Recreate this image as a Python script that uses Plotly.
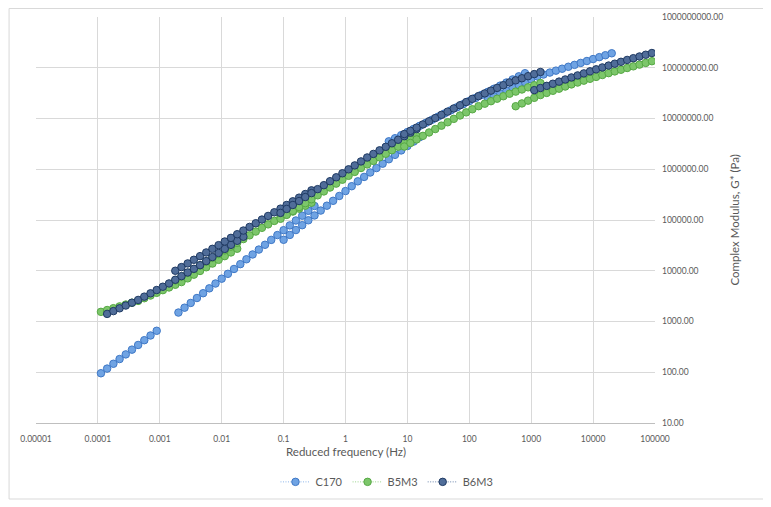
import plotly.graph_objects as go

# ---------------- data (reduced frequency in Hz, |G*| in Pa) ----------------
# Each series is a master curve built from several overlapping frequency sweeps.
C170_FREQ = [
    [1.12e-4, 1.41e-4, 1.78e-4, 2.24e-4, 2.82e-4, 3.55e-4, 4.47e-4, 5.62e-4, 7.08e-4, 8.91e-4],
    [2.00e-3, 2.51e-3, 3.16e-3, 3.98e-3, 5.01e-3, 6.31e-3, 7.94e-3, 1.00e-2, 1.26e-2, 1.58e-2, 2.00e-2, 2.51e-2,
     3.16e-2, 3.98e-2, 5.01e-2, 6.31e-2, 7.94e-2, 0.100, 0.126, 0.158, 0.200, 0.251, 0.316],
    [0.100, 0.126, 0.158, 0.200, 0.251, 0.316, 0.398, 0.501, 0.631, 0.794, 1.00, 1.26, 1.58, 2.00, 2.51, 3.16,
     3.98, 5.01, 6.31, 7.94, 10.0, 12.6, 15.8],
    [5.01, 6.31, 7.94, 10.0, 12.6, 15.8, 20.0, 25.1, 31.6, 39.8, 50.1, 63.1, 79.4, 100, 126, 158, 200, 251, 316,
     398, 501, 631, 794],
    [200, 251, 316, 398, 501, 631, 794, 1000, 1260, 1580, 2000, 2510, 3160, 3980, 5010, 6310, 7940, 10000, 12600,
     15800, 20000],
]
C170_GSTAR = [
    [95.5, 118, 147, 182, 225, 279, 345, 428, 530, 656],
    [1500, 1870, 2320, 2900, 3610, 4500, 5600, 6980, 8690, 10840, 13490, 16830, 20940, 26120, 32510, 40550,
     50470, 62950, 78340, 97720, 121600, 151700, 188800],
    [40740, 50820, 63390, 79070, 98630, 123000, 153500, 191400, 238800, 297800, 371500, 463400, 578100, 706300,
     863000, 1.054e6, 1.288e6, 1.574e6, 1.923e6, 2.350e6, 2.871e6, 3.508e6, 4.285e6],
    [3.548e6, 4.083e6, 4.699e6, 5.408e6, 6.223e6, 7.161e6, 8.241e6, 9.484e6, 1.091e7, 1.256e7, 1.445e7, 1.663e7,
     1.914e7, 2.203e7, 2.535e7, 2.917e7, 3.357e7, 3.864e7, 4.446e7, 5.117e7, 5.888e7, 6.776e7, 7.798e7],
    [2.404e7, 2.735e7, 3.112e7, 3.540e7, 4.027e7, 4.581e7, 5.212e7, 5.929e7, 6.745e7, 7.362e7, 8.035e7, 8.770e7,
     9.572e7, 1.045e8, 1.140e8, 1.245e8, 1.358e8, 1.483e8, 1.618e8, 1.766e8, 1.928e8],
]

B5M3_FREQ = [
    [1.12e-4, 1.41e-4, 1.78e-4, 2.24e-4, 2.82e-4, 3.55e-4, 4.47e-4, 5.62e-4, 7.08e-4, 8.91e-4, 1.12e-3, 1.41e-3,
     1.78e-3, 2.24e-3, 2.82e-3, 3.55e-3, 4.47e-3, 5.62e-3, 7.08e-3, 8.91e-3, 1.12e-2, 1.41e-2, 1.78e-2],
    [1.78e-3, 2.24e-3, 2.82e-3, 3.55e-3, 4.47e-3, 5.62e-3, 7.08e-3, 8.91e-3, 1.12e-2, 1.41e-2, 1.78e-2, 2.24e-2,
     2.82e-2, 3.55e-2, 4.47e-2, 5.62e-2, 7.08e-2, 8.91e-2, 0.112, 0.141, 0.178, 0.224, 0.282],
    [8.91e-2, 0.112, 0.141, 0.178, 0.224, 0.282, 0.355, 0.447, 0.562, 0.708, 0.891, 1.12, 1.41, 1.78, 2.24, 2.82,
     3.55, 4.47, 5.62, 7.08, 8.91, 11.2, 14.1],
    [8.91, 11.2, 14.1, 17.8, 22.4, 28.2, 35.5, 44.7, 56.2, 70.8, 89.1, 112, 141, 178, 224, 282, 355, 447, 562,
     708, 891, 1120, 1410],
    [562, 708, 891, 1120, 1410, 1780, 2240, 2820, 3550, 4470, 5620, 7080, 8910, 11200, 14100, 17800, 22400,
     28200, 35500, 44700, 56200, 70800, 89100],
]
B5M3_GSTAR = [
    [1549, 1683, 1828, 1986, 2158, 2344, 2547, 2877, 3251, 3673, 4150, 4688, 5297, 5984, 7079, 8375, 9908,
     11720, 13870, 16410, 19410, 22960, 27160],
    [6457, 7656, 9078, 10760, 12760, 15140, 17950, 21280, 25230, 29920, 35480, 42070, 49890, 59160, 70150,
     82030, 95940, 112200, 128200, 146600, 167500, 191400, 218800],
    [105700, 126200, 150700, 179900, 214800, 256400, 306200, 365600, 436500, 521200, 622300, 743000, 887200,
     1.059e6, 1.245e6, 1.462e6, 1.718e6, 2.018e6, 2.371e6, 2.786e6, 3.273e6, 3.846e6, 4.519e6],
    [2.805e6, 3.296e6, 3.873e6, 4.550e6, 5.309e6, 6.194e6, 7.228e6, 8.433e6, 9.840e6, 1.148e7, 1.321e7, 1.521e7,
     1.750e7, 1.959e7, 2.193e7, 2.455e7, 2.748e7, 3.076e7, 3.388e7, 3.733e7, 4.111e7, 4.529e7, 4.989e7],
    [1.746e7, 1.982e7, 2.249e7, 2.553e7, 2.897e7, 3.192e7, 3.516e7, 3.873e7, 4.266e7, 4.699e7, 5.117e7, 5.572e7,
     6.067e7, 6.607e7, 7.194e7, 7.834e7, 8.472e7, 9.141e7, 9.886e7, 1.067e8, 1.153e8, 1.245e8, 1.346e8],
]

B6M3_FREQ = [
    [1.41e-4, 1.78e-4, 2.24e-4, 2.82e-4, 3.55e-4, 4.47e-4, 5.62e-4, 7.08e-4, 8.91e-4, 1.12e-3, 1.41e-3, 1.78e-3,
     2.24e-3, 2.82e-3, 3.55e-3, 4.47e-3, 5.62e-3, 7.08e-3, 8.91e-3, 1.12e-2, 1.41e-2, 1.78e-2, 2.24e-2],
    [1.78e-3, 2.24e-3, 2.82e-3, 3.55e-3, 4.47e-3, 5.62e-3, 7.08e-3, 8.91e-3, 1.12e-2, 1.41e-2, 1.78e-2, 2.24e-2,
     2.82e-2, 3.55e-2, 4.47e-2, 5.62e-2, 7.08e-2, 8.91e-2, 0.112, 0.141, 0.178, 0.224, 0.282],
    [8.91e-2, 0.112, 0.141, 0.178, 0.224, 0.282, 0.355, 0.447, 0.562, 0.708, 0.891, 1.12, 1.41, 1.78, 2.24, 2.82,
     3.55, 4.47, 5.62, 7.08, 8.91, 11.2, 14.1],
    [8.91, 11.2, 14.1, 17.8, 22.4, 28.2, 35.5, 44.7, 56.2, 70.8, 89.1, 112, 141, 178, 224, 282, 355, 447, 562,
     708, 891, 1120, 1410],
    [1120, 1410, 1780, 2240, 2820, 3550, 4470, 5620, 7080, 8910, 11200, 14100, 17800, 22400, 28200, 35500,
     44700, 56200, 70800, 89100],
]
B6M3_GSTAR = [
    [1413, 1603, 1820, 2065, 2344, 2661, 3090, 3589, 4169, 4842, 5623, 6637, 7834, 9247, 10910, 12880, 15490,
     18620, 22390, 26920, 32360, 38900, 46770],
    [10000, 11800, 13930, 16440, 19410, 22910, 27040, 31920, 37670, 44460, 52480, 61940, 73110, 86300, 101900,
     120200, 141900, 167500, 197700, 233300, 275400, 325100, 383700],
    [138000, 165200, 197700, 236600, 283100, 338800, 405500, 485300, 580700, 695000, 831800, 995400, 1.191e6,
     1.426e6, 1.706e6, 2.004e6, 2.355e6, 2.767e6, 3.251e6, 3.819e6, 4.487e6, 5.272e6, 6.194e6],
    [4.943e6, 5.715e6, 6.607e6, 7.638e6, 8.831e6, 1.021e7, 1.180e7, 1.365e7, 1.578e7, 1.824e7, 2.109e7, 2.438e7,
     2.761e7, 3.126e7, 3.540e7, 4.009e7, 4.539e7, 5.140e7, 5.649e7, 6.209e7, 6.823e7, 7.499e7, 8.241e7],
    [3.622e7, 3.990e7, 4.395e7, 4.842e7, 5.333e7, 5.875e7, 6.442e7, 7.063e7, 7.745e7, 8.492e7, 9.311e7, 1.014e8,
     1.104e8, 1.202e8, 1.309e8, 1.426e8, 1.542e8, 1.667e8, 1.803e8, 1.950e8],
]

X_TICKS = [1e-5, 1e-4, 1e-3, 1e-2, 1e-1, 1, 10, 100, 1000, 10000, 100000]
X_TICK_TEXT = ["0.00001", "0.0001", "0.001", "0.01", "0.1", "1", "10", "100", "1000", "10000", "100000"]
Y_TICKS = [10, 100, 1e3, 1e4, 1e5, 1e6, 1e7, 1e8, 1e9]
Y_TICK_TEXT = ["10.00", "100.00", "1000.00", "10000.00", "100000.00", "1000000.00",
               "10000000.00", "100000000.00", "1000000000.00"]


def join(segments):
    out = []
    for i, seg in enumerate(segments):
        if i:
            out.append(None)
        out.extend(seg)
    return out


FONT = "Lato, 'Open Sans', sans-serif"
GREY_TXT = "#595959"

series = [
    ("C170", C170_FREQ, C170_GSTAR, "#6FA3E3", "#3F78C6", "#8DB6EA"),
    ("B5M3", B5M3_FREQ, B5M3_GSTAR, "#7CC66A", "#56A844", "#9AD38C"),
    ("B6M3", B6M3_FREQ, B6M3_GSTAR, "#506D99", "#1F3A63", "#6C86AD"),
]

fig = go.Figure()
for name, fq, gs, fill, edge, linec in series:
    fig.add_trace(go.Scatter(
        x=join(fq), y=join(gs), name=name, mode="lines+markers",
        connectgaps=False,
        line=dict(color=linec, width=1, dash="1px,1.5px"),
        marker=dict(symbol="circle", size=7.5, color=fill, line=dict(color=edge, width=1)),
    ))

# The page body adds an 8 px offset, so the figure is 8 px smaller than the window.
fig.update_layout(
    width=763, height=499,
    margin=dict(l=27.5, r=115.5, t=9, b=84, autoexpand=False),
    paper_bgcolor="white", plot_bgcolor="white",
    font=dict(family=FONT, color=GREY_TXT),
    showlegend=True,
    legend=dict(orientation="h", x=0.567, y=-0.145, xanchor="center", yanchor="middle",
                font=dict(size=11, color=GREY_TXT), bgcolor="rgba(0,0,0,0)",
                tracegroupgap=0, itemwidth=30),
    xaxis=dict(type="log", range=[-5, 5], tickvals=X_TICKS, ticktext=X_TICK_TEXT,
               showgrid=True, gridcolor="#D9D9D9", gridwidth=1,
               showline=True, linecolor="#BFBFBF", linewidth=1, zeroline=False,
               ticks="", ticklabelstandoff=8,
               tickfont=dict(size=8.5, color=GREY_TXT, family=FONT)),
    yaxis=dict(type="log", range=[1, 9], side="right", tickvals=Y_TICKS, ticktext=Y_TICK_TEXT,
               showgrid=True, gridcolor="#D9D9D9", gridwidth=1,
               showline=False, zeroline=False, ticks="", ticklabelstandoff=6,
               tickfont=dict(size=8.5, color=GREY_TXT, family=FONT)),
    annotations=[
        dict(text="Reduced frequency (Hz)", xref="paper", yref="paper", x=0.5, y=-0.0714,
             xanchor="center", yanchor="middle", showarrow=False,
             font=dict(size=11.5, color=GREY_TXT, family=FONT)),
        dict(text="Complex Modulus, G* (Pa)", xref="paper", yref="paper", x=1.127, y=0.5,
             xanchor="center", yanchor="middle", textangle=-90, showarrow=False,
             font=dict(size=11.5, color=GREY_TXT, family=FONT)),
    ],
    shapes=[
        dict(type="rect", xref="paper", yref="paper", x0=-0.0435, x1=1.1766, y0=-0.1872, y1=1.0209,
             line=dict(color="#D9D9D9", width=1), fillcolor="rgba(0,0,0,0)", layer="below"),
    ],
)

fig.write_html("out.html")
